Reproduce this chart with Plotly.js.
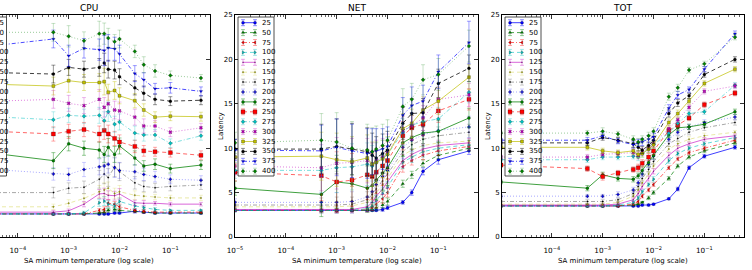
<!DOCTYPE html>
<html><head><meta charset="utf-8">
<script src="https://cdn.plot.ly/plotly-3.0.1.min.js"></script>
<style>html,body{margin:0;padding:0;background:#fff}</style>
</head><body><div id="chart" style="width:752px;height:270px"></div>
<script>
// ---------------- DATA ----------------
const temps = [1e-5,5e-4,1e-3,2e-3,4e-3,5e-3,6e-3,8e-3,1e-2,2e-2,3e-2,5e-2,1e-1,4e-1];
const seriesLabels = ['25','50','75','100','125','150','175','200','225','250','275','300','325','350','375','400'];
const panelTitles = ['CPU','NET','TOT'];
const xTitle = 'SA minimum temperature (log scale)';
const yTitle = 'Latency';

const cpuLatency = [
 [2.6,2.6,2.6,2.6,2.6,2.6,2.6,2.7,2.7,2.9,2.8,2.7,2.7,2.7],
 [2.6,2.6,2.6,2.6,2.7,2.8,3.0,3.1,3.0,2.9,2.8,2.7,2.7,2.7],
 [2.6,2.6,2.6,2.6,3.0,3.1,3.8,3.7,3.4,3.0,2.9,2.8,2.8,2.8],
 [2.6,2.6,2.6,2.7,3.85,4.05,3.7,3.5,4.0,3.5,3.3,3.1,3.0,3.0],
 [2.8,2.8,2.95,3.7,4.85,4.9,4.7,4.65,4.85,3.85,3.8,3.8,3.7,3.7],
 [3.4,3.4,3.8,4.35,5.1,5.3,5.5,4.9,5.1,4.7,4.6,4.5,4.4,4.4],
 [5.0,5.0,5.5,5.6,6.5,7.1,6.7,7.9,7.35,6.1,5.7,5.55,5.7,5.85],
 [7.8,7.1,7.05,7.6,7.9,8.0,8.2,7.8,7.5,7.35,7.05,6.8,6.5,6.4],
 [9.8,8.6,10.5,10.0,9.8,9.3,10.1,9.3,10.25,8.9,8.0,8.2,7.7,8.1],
 [12.05,11.6,11.9,12.1,11.6,12.0,11.6,11.1,10.7,10.2,9.7,9.6,9.5,9.2],
 [13.7,13.2,13.7,13.6,13.7,13.1,14.1,12.7,12.95,11.7,11.5,11.5,10.55,11.4],
 [15.2,15.5,15.05,14.8,15.5,14.6,15.0,14.3,14.2,13.5,12.5,12.5,11.8,12.3],
 [17.3,17.0,17.6,17.4,17.4,17.5,16.3,16.5,15.9,15.35,14.3,13.5,13.6,13.55],
 [18.6,18.35,19.1,18.9,19.1,19.6,18.9,18.8,18.05,16.8,16.2,15.5,15.3,15.4],
 [21.2,22.3,20.4,21.25,21.1,21.0,21.3,21.2,20.6,18.4,17.7,16.7,16.8,16.4],
 [23.05,23.05,22.6,22.1,22.9,22.9,22.4,22.0,22.3,20.9,19.4,18.7,18.2,17.9]
];
const cpuErr = [
 [0.1,0.1,0.1,0.1,0.1,0.1,0.1,0.1,0.1,0.2,0.1,0.1,0.1,0.1],
 [0.1,0.1,0.1,0.1,0.1,0.2,0.2,0.2,0.2,0.1,0.1,0.1,0.1,0.1],
 [0.1,0.1,0.1,0.1,0.2,0.3,0.4,0.3,0.3,0.2,0.2,0.1,0.1,0.1],
 [0.1,0.1,0.1,0.2,0.4,0.5,0.4,0.3,0.4,0.3,0.2,0.2,0.1,0.1],
 [0.2,0.2,0.2,0.3,0.5,0.6,0.5,0.5,0.6,0.3,0.3,0.2,0.2,0.2],
 [0.3,0.3,0.4,0.5,0.7,0.8,0.7,0.6,0.7,0.5,0.4,0.3,0.3,0.3],
 [0.4,0.6,0.6,0.7,1.0,1.1,1.0,1.1,1.0,0.7,0.6,0.5,0.5,0.5],
 [0.5,0.7,0.7,0.8,0.9,1.0,1.0,1.1,0.9,0.8,0.7,0.6,0.5,0.5],
 [0.5,0.9,0.8,0.8,0.9,0.9,1.0,0.9,0.9,0.8,0.6,0.6,0.5,0.5],
 [0.5,0.8,0.8,0.8,0.9,1.0,1.0,0.8,0.8,0.7,0.6,0.5,0.5,0.5],
 [0.5,0.9,0.8,0.8,0.9,1.0,1.1,0.9,0.9,0.8,0.7,0.6,0.5,0.5],
 [0.6,1.0,0.9,0.9,1.1,1.1,1.1,1.0,1.0,0.9,0.8,0.6,0.5,0.5],
 [0.6,1.0,1.3,0.9,1.0,1.5,0.9,1.0,0.9,0.8,0.7,0.6,0.5,0.5],
 [0.6,1.0,0.9,0.9,1.0,1.1,1.0,1.0,0.9,0.8,0.8,0.6,0.5,0.5],
 [0.7,1.0,1.2,1.1,1.2,1.7,1.5,1.3,1.0,0.9,0.8,0.6,0.6,0.5],
 [0.7,1.0,1.2,1.0,1.4,1.2,1.1,0.8,1.0,0.7,0.9,0.7,0.5,0.4]
];

const netLatency = [
 [3.0,3.0,3.0,3.0,3.0,3.0,3.0,3.1,3.3,3.9,5.0,7.4,8.7,9.7],
 [3.0,3.0,3.0,3.0,3.0,3.1,3.3,3.6,4.0,6.0,7.0,8.3,9.2,10.0],
 [3.0,3.0,3.0,3.0,3.1,3.3,3.7,4.3,5.0,7.9,8.6,9.2,9.7,10.2],
 [3.0,3.0,3.0,3.0,3.2,3.5,4.1,4.9,5.6,8.4,9.0,9.6,10.0,10.4],
 [3.1,3.1,3.1,3.1,3.4,3.9,4.6,5.4,6.2,8.6,9.3,9.9,10.3,10.6],
 [3.4,3.4,3.4,3.5,3.9,4.4,5.0,5.9,6.6,9.2,9.8,10.3,10.6,10.8],
 [3.6,3.6,3.6,3.7,4.2,4.8,5.4,6.3,7.1,9.6,10.4,11.0,11.4,11.8],
 [3.9,3.9,3.9,4.0,4.5,5.1,5.9,6.8,7.5,10.1,10.9,11.5,12.0,12.4],
 [5.5,4.8,6.2,6.0,5.5,5.8,6.4,7.2,7.8,10.6,11.2,11.7,11.9,13.4],
 [7.3,6.9,6.2,6.4,7.0,6.8,7.3,8.0,8.6,11.4,12.3,12.7,14.2,15.5],
 [7.5,7.5,7.8,7.9,8.2,8.0,8.4,8.9,9.3,11.8,12.6,13.0,13.3,16.3],
 [8.0,7.8,8.3,8.4,8.6,8.2,8.6,9.0,9.6,12.0,12.5,13.4,15.5,16.0],
 [9.0,9.1,8.7,8.5,8.9,8.2,8.4,8.8,9.3,12.2,12.8,14.3,15.3,18.0],
 [9.9,9.9,10.2,9.9,9.6,9.2,8.9,9.4,9.8,12.8,13.9,14.0,17.3,19.0],
 [9.8,9.7,10.1,9.7,9.4,9.6,9.7,9.9,10.2,13.7,14.8,15.3,18.6,21.9],
 [10.6,10.9,10.7,10.0,9.8,9.6,9.9,10.3,10.9,14.7,15.5,17.7,18.3,21.5]
];
const netErr = [
 [0.1,0.1,0.1,0.1,0.1,0.1,0.1,0.2,0.2,0.2,0.3,0.4,0.5,0.4],
 [0.1,0.1,0.1,0.1,0.2,0.2,0.3,0.3,0.4,0.4,0.4,0.4,0.4,0.3],
 [0.1,0.2,0.2,0.2,0.3,0.3,0.4,0.5,0.5,0.6,0.5,0.5,0.5,0.4],
 [0.2,0.3,0.3,0.3,0.4,0.4,0.5,0.5,0.6,0.7,0.6,0.6,0.6,0.5],
 [0.2,0.4,0.4,0.4,0.5,0.5,0.6,0.6,0.7,0.7,0.6,0.6,0.6,0.5],
 [0.3,0.6,0.6,0.6,0.7,0.7,0.8,0.8,0.9,0.9,0.8,0.8,0.8,0.7],
 [0.4,0.8,0.9,0.8,0.9,0.9,1.0,1.0,1.1,1.1,1.0,1.0,1.0,0.9],
 [0.4,1.0,1.1,1.1,1.2,1.2,1.2,1.2,1.3,1.3,1.2,1.2,1.3,1.2],
 [0.8,2.5,3.0,2.8,2.5,2.4,2.2,2.0,2.0,1.5,1.3,1.2,1.2,1.1],
 [1.0,2.8,3.4,3.0,2.8,2.6,2.4,2.2,2.1,1.6,1.4,1.3,1.3,1.2],
 [0.9,2.5,2.8,2.6,2.4,2.3,2.2,2.0,1.9,1.5,1.4,1.3,1.3,1.2],
 [1.0,2.6,2.9,2.7,2.5,2.4,2.3,2.1,2.0,1.6,1.5,1.4,1.4,1.3],
 [1.0,2.7,3.0,2.8,2.6,2.5,2.3,2.1,2.0,1.7,1.6,1.5,1.5,1.4],
 [1.1,2.8,3.1,2.9,2.7,2.5,2.4,2.2,2.1,1.8,1.7,1.6,1.6,1.5],
 [1.2,2.9,3.2,3.0,2.8,2.6,2.5,2.3,2.2,2.0,2.1,1.8,1.9,2.4],
 [1.2,3.0,3.3,3.0,2.9,2.7,2.6,2.4,2.3,2.0,1.8,1.7,1.8,1.8]
];

const totLatency = [
 [3.5,3.5,3.5,3.5,3.5,3.5,3.6,3.6,3.7,4.3,5.4,7.8,9.1,10.1],
 [3.5,3.5,3.5,3.5,3.6,3.7,3.9,4.4,5.0,6.6,8.0,9.0,9.7,10.6],
 [3.5,3.5,3.5,3.5,3.7,4.0,4.6,5.3,5.9,7.8,8.8,9.5,10.0,10.9],
 [3.5,3.5,3.5,3.6,3.9,4.4,5.1,5.9,6.5,8.6,9.4,10.0,10.5,11.2],
 [3.6,3.6,3.6,3.7,4.2,4.9,5.7,6.6,7.4,9.2,10.0,10.5,11.0,11.4],
 [3.7,3.7,3.7,3.9,4.6,5.3,6.1,7.1,8.0,9.9,10.5,11.0,11.4,11.8],
 [4.0,4.0,4.0,4.2,4.9,5.7,6.6,7.6,8.5,10.5,11.1,11.8,12.3,12.9],
 [4.6,4.6,4.6,4.8,5.3,6.1,7.1,8.2,9.1,11.0,11.8,12.4,12.9,13.5],
 [6.2,5.5,7.0,6.6,6.5,6.9,7.5,8.4,9.2,11.5,12.3,12.4,12.7,14.1],
 [8.1,7.7,6.8,7.2,7.6,7.8,8.3,9.0,9.7,12.0,12.6,13.4,14.9,16.2],
 [8.7,8.7,9.0,9.0,9.1,9.0,9.4,9.9,10.4,11.7,12.8,13.9,14.1,17.1],
 [9.0,9.0,9.3,9.4,9.5,9.2,9.6,10.0,10.5,12.2,13.2,14.6,16.4,17.0],
 [10.1,10.1,9.7,9.5,9.7,9.3,9.4,9.9,10.4,12.9,13.9,15.3,17.3,18.9],
 [10.6,10.6,11.2,10.9,10.5,10.1,9.8,10.3,10.9,13.9,15.1,15.9,18.3,20.0],
 [10.9,10.9,11.4,10.8,10.4,10.6,10.7,11.0,11.3,14.5,16.0,16.6,18.9,22.9],
 [11.7,11.7,11.9,11.6,11.0,10.7,11.0,11.4,11.9,15.8,16.8,18.8,19.5,22.5]
];
const totErr = [
 [0.1,0.1,0.1,0.1,0.1,0.1,0.1,0.1,0.1,0.1,0.2,0.2,0.2,0.2],
 [0.1,0.1,0.1,0.1,0.1,0.1,0.1,0.2,0.2,0.2,0.2,0.2,0.2,0.2],
 [0.1,0.1,0.1,0.1,0.1,0.2,0.2,0.2,0.2,0.2,0.2,0.2,0.2,0.2],
 [0.1,0.1,0.1,0.1,0.2,0.2,0.2,0.2,0.3,0.3,0.2,0.2,0.2,0.2],
 [0.1,0.1,0.1,0.2,0.2,0.2,0.3,0.3,0.3,0.3,0.3,0.2,0.2,0.2],
 [0.1,0.1,0.2,0.2,0.2,0.3,0.3,0.3,0.3,0.3,0.3,0.3,0.3,0.2],
 [0.1,0.2,0.2,0.2,0.3,0.3,0.3,0.3,0.3,0.3,0.3,0.3,0.3,0.3],
 [0.2,0.2,0.2,0.3,0.3,0.3,0.3,0.4,0.4,0.3,0.3,0.3,0.3,0.3],
 [0.2,0.3,0.3,0.3,0.3,0.3,0.4,0.4,0.4,0.3,0.3,0.3,0.3,0.3],
 [0.2,0.3,0.4,0.3,0.3,0.4,0.4,0.4,0.4,0.3,0.3,0.3,0.3,0.3],
 [0.2,0.3,0.3,0.3,0.3,0.4,0.4,0.4,0.4,0.3,0.3,0.3,0.3,0.3],
 [0.2,0.3,0.3,0.3,0.4,0.4,0.4,0.4,0.4,0.4,0.3,0.3,0.3,0.3],
 [0.2,0.3,0.3,0.3,0.4,0.4,0.4,0.4,0.4,0.4,0.4,0.3,0.3,0.3],
 [0.2,0.3,0.3,0.3,0.4,0.4,0.4,0.4,0.4,0.4,0.4,0.3,0.3,0.3],
 [0.2,0.3,0.3,0.3,0.4,0.4,0.4,0.4,0.4,0.4,0.4,0.3,0.3,0.3],
 [0.2,0.3,0.4,0.3,0.4,0.4,0.4,0.4,0.4,0.4,0.4,0.3,0.3,0.3]
];

// ---------------- STYLE ----------------
const W = 752, H = 270;
const FONT = 'DejaVu Sans, sans-serif';
const rgb = {b:'0,0,255', g:'0,128,0', r:'255,0,0', c:'0,191,191', m:'191,0,191', y:'191,191,0', k:'0,0,0'};
const dashes = {solid:'solid', dash:'4px,3px', dot:'1px,2px', dashdot:'4px,2px,1px,2px'};
const styles = [
 {c:'b', d:'solid',   s:'circle',        a:0.75, ms:3},
 {c:'g', d:'dash',    s:'triangle-up',   a:0.7, ms:3},
 {c:'r', d:'dashdot', s:'triangle-left', a:0.6, ms:3},
 {c:'c', d:'dash',    s:'triangle-right',a:0.6, ms:3},
 {c:'m', d:'solid',   s:'circle',        a:0.6, ms:1},
 {c:'y', d:'dash',    s:'circle',        a:0.35, ms:1.5},
 {c:'k', d:'dashdot', s:'circle',        a:0.35, ms:1.5},
 {c:'b', d:'dot',     s:'cross',         a:0.35, ms:2.5},
 {c:'g', d:'solid',   s:'circle',        a:0.75, ms:3},
 {c:'r', d:'dash',    s:'square',        a:0.6, ms:4},
 {c:'c', d:'dashdot', s:'diamond',       a:0.5, ms:3},
 {c:'m', d:'dot',     s:'x',             a:0.5, ms:3},
 {c:'y', d:'solid',   s:'square',        a:0.7, ms:3},
 {c:'k', d:'dash',    s:'circle',        a:0.75, ms:3},
 {c:'b', d:'dashdot', s:'triangle-down', a:0.7, ms:3},
 {c:'g', d:'dot',     s:'diamond',       a:0.4, ms:3}
];

// panel geometry (pixels)
const axTop = 15, axBot = 237;
const panels = [
  {left:-32.5, right:210},
  {left:235, right:478},
  {left:502, right:744}
];
const xr = [-5, -0.22];
const pxPerDec = (panels[1].right - panels[1].left) / (xr[1]-xr[0]);

const datasets = [[cpuLatency,cpuErr],[netLatency,netErr],[totLatency,totErr]];
const traces = [];
const layout = {
  width: W, height: H,
  margin: {l:0, r:0, t:0, b:0},
  paper_bgcolor: '#fff', plot_bgcolor: 'rgba(0,0,0,0)',
  showlegend: false, hovermode: false,
  font: {family: FONT, size: 7, color: '#000'},
  annotations: [], shapes: []
};

panels.forEach((p, k) => {
  const ax = k === 0 ? '' : String(k+1);
  const visLeft = Math.max(p.left, 0);
  const xStart = xr[1] - (p.right - visLeft) / pxPerDec;
  layout['xaxis' + ax] = {
    type: 'log', domain: [visLeft/W, p.right/W], range: [xStart, xr[1]],
    anchor: 'y' + ax,
    showline: true, linecolor: '#000', linewidth: 1, mirror: 'allticks',
    ticks: 'inside', ticklen: 4, tickcolor: '#000', tickwidth: 0.8,
    dtick: 1, exponentformat: 'power', showgrid: false, zeroline: false,
    ticklabelstandoff: 7,
    tickfont: {family: FONT, size: 5.8, color: '#000'},
    minor: {ticks: 'inside', ticklen: 2, tickcolor: '#000', tickwidth: 0.6, showgrid: false},
    fixedrange: true
  };
  const yax = {
    domain: [1 - axBot/H, 1 - axTop/H], range: [0, 25], anchor: 'x' + ax,
    showline: true, linecolor: '#000', linewidth: 1,
    ticks: 'inside', ticklen: 4, tickcolor: '#000', tickwidth: 0.8,
    showgrid: false, zeroline: false, fixedrange: true,
    tickfont: {family: FONT, size: 7, color: '#000'}
  };
  if (k === 0) {
    Object.assign(yax, {side: 'right', mirror: false, showticklabels: false, dtick: 10});
  } else {
    Object.assign(yax, {mirror: 'allticks', dtick: 5});
  }
  layout['yaxis' + ax] = yax;

  const [vals, errs] = datasets[k];
  vals.forEach((ys, i) => {
    const st = styles[i];
    const col = rgb[st.c];
    traces.push({
      type: 'scatter', mode: 'lines+markers', x: temps, y: ys,
      xaxis: 'x' + ax, yaxis: 'y' + ax, cliponaxis: true,
      line: {color: `rgba(${col},${st.a})`, width: 1, dash: dashes[st.d]},
      marker: {symbol: st.s, size: st.ms, color: `rgb(${col})`, line: {color: 'rgba(0,0,0,0.6)', width: 0.4}},
      error_y: {type: 'data', array: errs[i], visible: true, color: `rgba(${col},${st.a*0.55})`, thickness: 1, width: 2}
    });
  });

  const cx = (p.left + p.right) / 2;
  layout.annotations.push({text: panelTitles[k], x: cx/W, y: 1 - 8/H, xref: 'paper', yref: 'paper',
    xanchor: 'center', yanchor: 'middle', showarrow: false, font: {family: FONT, size: 9, color: '#000'}});
  layout.annotations.push({text: xTitle, x: cx/W, y: 1 - 261/H, xref: 'paper', yref: 'paper',
    xanchor: 'center', yanchor: 'middle', showarrow: false, font: {family: FONT, size: 7, color: '#000'}});
  layout.annotations.push({text: yTitle, x: (p.left - 14)/W, y: 1 - 126/H, xref: 'paper', yref: 'paper',
    xanchor: 'center', yanchor: 'middle', textangle: -90, showarrow: false, font: {family: FONT, size: 7, color: '#000'}});
});

// legend overlay subplot in pixel coordinates
layout.xaxis4 = {domain: [0,1], range: [0, W], visible: false, fixedrange: true, anchor: 'y4'};
layout.yaxis4 = {domain: [0,1], range: [H, 0], visible: false, fixedrange: true, anchor: 'x4'};
const legTop = 17, legBot = 176, legRow0 = 22.7, legStep = 9.9;
panels.forEach((p) => {
  const l = p.left + 3, r = p.left + 39;
  traces.push({type: 'scatter', mode: 'lines', x: [l, r, r, l, l], y: [legTop, legTop, legBot, legBot, legTop],
    xaxis: 'x4', yaxis: 'y4', fill: 'toself', fillcolor: '#fff', line: {color: '#222', width: 0.8}});
  seriesLabels.forEach((lab, i) => {
    const st = styles[i];
    const col = rgb[st.c];
    const yy = legRow0 + i * legStep;
    traces.push({type: 'scatter', mode: 'lines+markers', x: [l + 5, l + 17], y: [yy, yy],
      xaxis: 'x4', yaxis: 'y4',
      line: {color: `rgba(${col},${st.a})`, width: 1, dash: dashes[st.d]},
      marker: {symbol: st.s, size: st.ms, color: `rgb(${col})`, line: {color: 'rgba(0,0,0,0.6)', width: 0.4}},
      error_y: {type: 'constant', value: 3, visible: true, color: `rgba(${col},${st.a*0.55})`, thickness: 1, width: 2}
    });
    layout.annotations.push({text: lab, x: (p.left + 25)/W, y: 1 - yy/H, xref: 'paper', yref: 'paper',
      xanchor: 'left', yanchor: 'middle', showarrow: false, font: {family: FONT, size: 7, color: '#000'}});
  });
});

Plotly.newPlot('chart', traces, layout, {staticPlot: true, displayModeBar: false});
</script>
</body></html>
